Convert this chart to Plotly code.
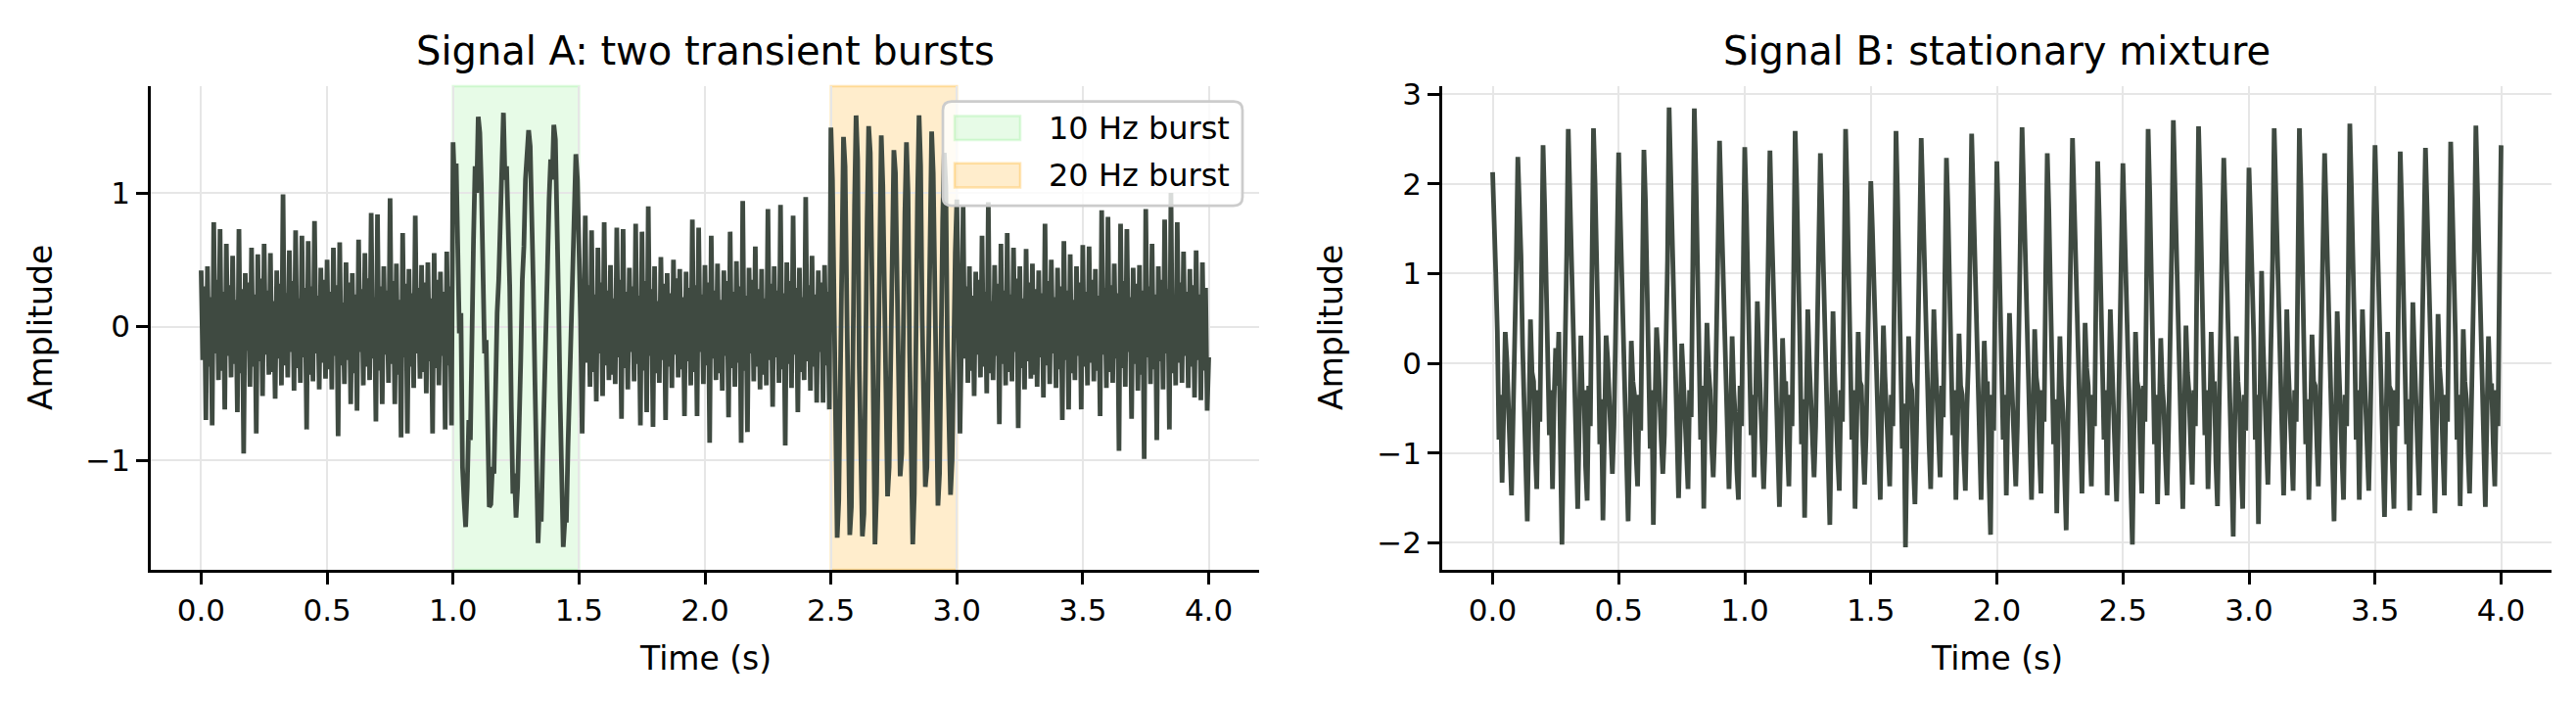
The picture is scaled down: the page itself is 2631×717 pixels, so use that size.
import numpy as np
import plotly.graph_objects as go

# ---------------- data ----------------
sample_step = 0.00625  # seconds between listed samples

# Signal A, 0.0 - 0.99375 s (background noise)
a_quiet_1 = [
    0.42, -0.25, 0.30, -0.70, 0.45, -0.30, 0.22, -0.74,
    0.78, -0.20, 0.35, -0.40, 0.73, -0.33, 0.26, -0.62,
    0.62, -0.22, 0.31, -0.38, 0.53, -0.28, 0.20, -0.64,
    0.73, -0.35, 0.28, -0.95, 0.40, -0.18, 0.33, -0.45,
    0.59, -0.30, 0.24, -0.80, 0.54, -0.26, 0.36, -0.52,
    0.62, -0.21, 0.27, -0.36, 0.55, -0.34, 0.19, -0.54,
    0.42, -0.24, 0.32, -0.44, 0.99, -0.29, 0.25, -0.38,
    0.57, -0.19, 0.34, -0.48, 0.72, -0.31, 0.21, -0.42,
    0.68, -0.23, 0.29, -0.77, 0.64, -0.36, 0.30, -0.41,
    0.79, -0.20, 0.23, -0.47, 0.44, -0.27, 0.35, -0.39,
    0.50, -0.32, 0.26, -0.47, 0.59, -0.22, 0.31, -0.82,
    0.63, -0.29, 0.18, -0.43, 0.48, -0.25, 0.33, -0.58,
    0.40, -0.35, 0.24, -0.63, 0.65, -0.19, 0.28, -0.44,
    0.55, -0.30, 0.36, -0.40, 0.85, -0.24, 0.22, -0.71,
    0.84, -0.33, 0.30, -0.58, 0.45, -0.21, 0.27, -0.42,
    0.96, -0.28, 0.34, -0.58, 0.47, -0.36, 0.20, -0.83,
    0.70, -0.23, 0.32, -0.80, 0.43, -0.30, 0.25, -0.46,
    0.83, -0.20, 0.29, -0.39, 0.46, -0.34, 0.33, -0.50,
    0.48, -0.26, 0.21, -0.80, 0.55, -0.31, 0.35, -0.44,
    0.41, -0.22, 0.26, -0.77, 0.56, -0.29, 0.30, -0.74,
]
# Signal A, 1.0 - 1.5 s (10 Hz burst)
a_burst_10hz = [
    1.38, 1.05, 1.22, 0.55, -0.05, 0.10, -1.05, -1.30, -1.50, -1.20,
    -0.70, -0.85, 0.25, 0.65, 1.20, 1.00, 1.57, 1.45, 1.05, 0.50,
    -0.20, -0.10, -0.95, -1.35, -1.33, -1.05, -1.10, -0.45, 0.10, 0.35,
    0.85, 1.25, 1.60, 1.10, 1.20, 0.75, 0.30, -0.60, -1.25, -1.10,
    -1.43, -1.20, -0.80, -0.25, 0.35, 0.60, 1.10, 1.30, 1.47, 1.35,
    0.95, 0.30, -0.40, -1.00, -1.62, -1.30, -1.46, -0.95, -0.35, 0.05,
    0.45, 0.95, 1.25, 1.10, 1.51, 1.40, 0.90, 0.20, -0.55, -1.10,
    -1.65, -1.45, -1.45, -0.90, -0.40, 0.00, 0.60, 1.05, 1.29, 1.10,
    0.70,
]
# Signal A, 1.50625 - 2.49375 s (background noise)
a_quiet_2 = [
    0.05, -0.80, -0.15,
    0.83, -0.27, 0.31, -0.45, 0.72, -0.34, 0.24, -0.56,
    0.59, -0.20, 0.33, -0.52, 0.78, -0.29, 0.27, -0.40,
    0.46, -0.36, 0.21, -0.43, 0.74, -0.23, 0.35, -0.69,
    0.73, -0.31, 0.26, -0.47, 0.44, -0.19, 0.30, -0.41,
    0.77, -0.28, 0.23, -0.74, 0.71, -0.33, 0.34, -0.64,
    0.90, -0.22, 0.28, -0.75, 0.45, -0.35, 0.19, -0.42,
    0.52, -0.25, 0.32, -0.70, 0.40, -0.30, 0.25, -0.46,
    0.50, -0.21, 0.36, -0.38, 0.43, -0.32, 0.22, -0.67,
    0.41, -0.26, 0.29, -0.44, 0.80, -0.34, 0.31, -0.67,
    0.74, -0.19, 0.24, -0.43, 0.46, -0.29, 0.33, -0.87,
    0.68, -0.24, 0.27, -0.40, 0.47, -0.35, 0.20, -0.48,
    0.42, -0.22, 0.34, -0.68, 0.71, -0.31, 0.26, -0.45,
    0.49, -0.27, 0.30, -0.87, 0.94, -0.33, 0.23, -0.79,
    0.44, -0.20, 0.35, -0.41, 0.60, -0.30, 0.28, -0.47,
    0.43, -0.36, 0.21, -0.44, 0.88, -0.25, 0.32, -0.60,
    0.45, -0.23, 0.27, -0.42, 0.91, -0.32, 0.25, -0.89,
    0.48, -0.28, 0.34, -0.46, 0.83, -0.21, 0.29, -0.64,
    0.44, -0.34, 0.22, -0.40, 0.97, -0.26, 0.31, -0.48,
    0.53, -0.30, 0.24, -0.57, 0.42, -0.19, 0.33, -0.57,
    0.46, -0.29, 0.26, -0.62,
]
# Signal A, 2.5 - 3.0 s (20 Hz burst)
a_burst_20hz = [
    1.49, 1.10, 0.10, -0.85, -1.58, -1.30, -0.20, 0.75, 1.42, 1.20,
    0.35, -0.70, -1.56, -1.35, 0.05, 0.90, 1.58, 1.25, -0.30, -1.05,
    -1.57, -1.40, 0.20, 0.80, 1.50, 1.30, 0.45, -0.60, -1.63, -1.25,
    -0.10, 0.70, 1.43, 1.05, 0.15, -0.90, -1.27, -1.05, -0.35, 0.55,
    1.32, 1.15, 0.25, -0.55, -1.12, -0.95, 0.10, 0.85, 1.38, 1.00,
    -0.20, -1.10, -1.63, -1.25, 0.40, 0.95, 1.58, 1.20, 0.05, -0.80,
    -1.20, -1.05, -0.25, 0.60, 1.46, 1.15, 0.30, -0.75, -1.34, -1.10,
    0.00, 0.80, 1.30, 1.05, -0.15, -0.95, -1.26, -1.00, 0.20, 0.55,
    0.95,
]
# Signal A, 3.00625 - 4.0 s (background noise)
a_quiet_3 = [
    0.10, -0.80, -0.05,
    0.90, -0.24, 0.30, -0.42, 0.45, -0.33, 0.23, -0.52,
    0.41, -0.21, 0.35, -0.38, 0.68, -0.30, 0.26, -0.50,
    0.93, -0.35, 0.19, -0.40, 0.46, -0.22, 0.32, -0.73,
    0.62, -0.28, 0.27, -0.44, 0.70, -0.34, 0.24, -0.41,
    0.59, -0.19, 0.36, -0.76, 0.45, -0.31, 0.21, -0.47,
    0.58, -0.26, 0.33, -0.39, 0.47, -0.36, 0.28, -0.45,
    0.42, -0.23, 0.25, -0.53, 0.77, -0.29, 0.34, -0.43,
    0.50, -0.20, 0.22, -0.46, 0.44, -0.32, 0.30, -0.70,
    0.64, -0.25, 0.27, -0.62, 0.54, -0.35, 0.20, -0.40,
    0.45, -0.22, 0.33, -0.62, 0.61, -0.30, 0.26, -0.44,
    0.60, -0.27, 0.35, -0.41, 0.43, -0.33, 0.23, -0.67,
    0.87, -0.21, 0.29, -0.46, 0.82, -0.34, 0.31, -0.42,
    0.47, -0.24, 0.25, -0.93, 0.77, -0.31, 0.34, -0.45,
    0.73, -0.19, 0.22, -0.69, 0.44, -0.28, 0.32, -0.48,
    0.46, -0.36, 0.27, -0.99, 0.88, -0.23, 0.30, -0.43,
    0.62, -0.32, 0.24, -0.85, 0.45, -0.26, 0.35, -0.47,
    0.80, -0.20, 0.28, -0.77, 1.00, -0.35, 0.21, -0.44,
    0.78, -0.27, 0.33, -0.42, 0.56, -0.22, 0.26, -0.46,
    0.43, -0.30, 0.31, -0.53, 0.57, -0.25, 0.24, -0.55,
    0.48, -0.33, 0.29, -0.63,
    -0.23,
]

# Signal B, one row per 0.1 s cycle (16 samples each) + final sample
signal_b = [
    2.13, 1.70, 1.00, 0.35, -0.85, -0.35, -1.33, -0.55, 0.35, 0.05, -0.45, -1.05, -1.47, -0.60, 0.10, 1.10,
    2.30, 1.85, 1.20, 0.20, -0.40, -1.20, -1.76, -0.70, 0.49, -0.10, -0.20, -0.95, -1.40, -0.30, -0.65, 0.90,
    2.43, 1.75, 0.95, 0.45, -0.80, -0.30, -1.40, -0.40, 0.17, -0.25, 0.35, -0.90, -2.02, -0.85, 0.05, 1.20,
    2.61, 1.90, 1.10, 0.10, -0.35, -1.10, -1.62, -0.65, 0.31, -0.40, -0.30, -1.15, -1.53, -0.25, -0.70, 1.00,
    2.62, 2.00, 1.25, 0.30, -0.90, -0.40, -1.75, -0.60, 0.31, 0.05, -0.55, -0.80, -1.23, -0.70, 0.30, 1.35,
    2.35, 1.65, 0.90, 0.00, -0.20, -1.05, -1.76, -0.85, 0.25, -0.20, -0.35, -1.00, -1.37, -0.35, -0.75, 0.85,
    2.38, 1.80, 1.05, 0.25, -0.95, -0.30, -1.80, -0.50, 0.40, 0.10, -0.25, -0.85, -1.23, -0.80, 0.20, 1.15,
    2.85, 2.05, 1.30, 0.40, -0.30, -0.90, -1.50, -0.75, 0.22, -0.15, -0.50, -1.10, -1.40, -0.30, -0.60, 1.05,
    2.84, 2.10, 1.15, 0.15, -0.85, -0.25, -1.62, -0.45, 0.45, -0.05, -0.30, -0.90, -1.27, -0.75, 0.05, 1.30,
    2.48, 1.80, 0.95, 0.30, -0.40, -0.95, -1.40, -0.70, 0.30, -0.30, -0.60, -1.20, -1.52, -0.25, -0.70, 0.95,
    2.41, 1.75, 1.10, 0.05, -0.80, -0.35, -1.27, -0.35, 0.69, 0.10, -0.35, -0.95, -1.40, -0.85, 0.10, 1.15,
    2.37, 1.60, 0.85, 0.35, -0.30, -1.10, -1.60, -0.80, 0.28, -0.25, -0.20, -0.90, -1.37, -0.35, -0.70, 0.90,
    2.59, 1.95, 1.20, 0.20, -0.90, -0.40, -1.72, -0.55, 0.60, 0.00, -0.40, -0.85, -1.27, -0.70, 0.15, 1.30,
    2.34, 1.70, 1.00, 0.40, -0.25, -1.15, -1.80, -0.60, 0.58, -0.10, -0.45, -1.05, -1.42, -0.30, -0.65, 0.85,
    2.61, 1.90, 1.15, 0.10, -0.85, -0.30, -1.62, -0.70, 0.35, -0.20, -0.25, -0.90, -1.35, -0.80, 0.30, 1.30,
    2.03, 1.50, 0.80, 0.25, -0.20, -1.00, -1.52, -0.45, 0.42, -0.15, -0.50, -1.00, -1.37, -0.35, -0.70, 0.90,
    2.59, 1.85, 1.10, 0.20, -0.95, -0.45, -2.05, -0.80, 0.30, -0.20, -0.30, -1.10, -1.57, -0.75, 0.20, 1.25,
    2.51, 1.85, 1.05, 0.35, -0.30, -0.90, -1.40, -0.50, 0.60, 0.05, -0.40, -0.85, -1.27, -0.25, -0.60, 0.95,
    2.29, 1.70, 0.95, 0.10, -0.80, -0.30, -1.52, -0.75, 0.33, -0.25, -0.35, -1.00, -1.42, -0.50, 0.05, 1.20,
    2.56, 1.90, 1.20, 0.30, -0.35, -1.05, -1.52, -0.60, 0.25, -0.30, -0.20, -1.25, -1.91, -0.35, -0.75, 0.95,
    2.25, 1.60, 0.90, 0.05, -0.85, -0.35, -1.47, -0.45, 0.56, 0.00, -0.45, -0.95, -1.37, -0.70, 0.20, 1.10,
    2.63, 1.95, 1.25, 0.35, -0.40, -1.10, -1.52, -0.65, 0.38, -0.15, -0.30, -1.00, -1.45, -0.30, -0.65, 1.00,
    2.34, 1.70, 1.00, 0.20, -0.90, -0.40, -1.67, -0.70, 0.30, -0.25, -0.55, -1.25, -1.86, -0.80, 0.25, 1.20,
    2.51, 1.85, 1.10, 0.40, -0.30, -0.95, -1.45, -0.55, 0.45, -0.05, -0.25, -0.90, -1.37, -0.35, -0.70, 0.90,
    2.25, 1.60, 0.85, 0.15, -0.85, -0.30, -1.47, -0.40, 0.60, 0.05, -0.40, -1.05, -1.54, -0.75, 0.30, 1.15,
    2.23, 1.55, 0.95, 0.30, -0.45, -1.35, -2.02, -0.75, 0.35, -0.20, -0.30, -0.95, -1.45, -0.25, -0.65, 0.90,
    2.61, 1.90, 1.20, 0.10, -0.90, -0.35, -1.57, -0.60, 0.28, -0.25, -0.50, -1.05, -1.47, -0.70, 0.20, 1.30,
    2.71, 2.00, 1.30, 0.35, -0.30, -1.10, -1.62, -0.55, 0.42, -0.10, -0.35, -0.90, -1.35, -0.30, -0.70, 1.05,
    2.64, 1.95, 1.15, 0.25, -0.80, -0.30, -1.40, -0.70, 0.35, -0.30, -0.20, -1.10, -1.59, -0.55, 0.25, 1.30,
    2.29, 1.65, 0.90, 0.05, -0.40, -1.30, -1.93, -0.65, 0.30, -0.20, -0.45, -1.15, -1.62, -0.35, -0.75, 0.85,
    2.18, 1.60, 0.95, 0.30, -0.85, -0.35, -1.79, -0.50, 1.03, 0.20, -0.30, -0.90, -1.35, -0.60, 0.20, 1.15,
    2.62, 1.90, 1.20, 0.20, -0.35, -1.00, -1.47, -0.55, 0.60, -0.05, -0.40, -0.95, -1.42, -0.30, -0.65, 1.00,
    2.62, 1.95, 1.10, 0.35, -0.90, -0.40, -1.52, -0.70, 0.32, -0.20, -0.25, -0.85, -1.37, -0.55, 0.30, 1.30,
    2.34, 1.70, 1.00, 0.10, -0.40, -1.20, -1.76, -0.60, 0.58, 0.00, -0.50, -1.10, -1.52, -0.35, -0.70, 0.90,
    2.67, 1.95, 1.25, 0.30, -0.85, -0.30, -1.52, -0.45, 0.60, 0.05, -0.35, -0.95, -1.42, -0.65, 0.20, 1.30,
    2.43, 1.75, 1.05, 0.20, -0.30, -1.15, -1.71, -0.70, 0.35, -0.25, -0.30, -1.10, -1.62, -0.30, -0.70, 0.95,
    2.36, 1.70, 0.95, 0.35, -0.90, -0.40, -1.64, -0.50, 0.68, 0.10, -0.45, -1.00, -1.47, -0.60, 0.25, 1.20,
    2.40, 1.75, 1.10, 0.15, -0.20, -1.10, -1.67, -0.65, 0.55, -0.05, -0.30, -0.95, -1.47, -0.35, -0.65, 0.90,
    2.47, 1.80, 1.15, 0.30, -0.85, -0.35, -1.59, -0.55, 0.38, -0.20, -0.40, -1.00, -1.45, -0.65, 0.10, 1.25,
    2.65, 1.95, 1.20, 0.25, -0.30, -1.10, -1.60, -0.60, 0.30, -0.25, -0.25, -0.90, -1.37, -0.30, -0.70, 1.00,
    2.43,
]

burst_labels = ["10 Hz burst", "20 Hz burst"]
burst_starts = [1.0, 2.5]
burst_ends = [1.5, 3.0]

panel_titles = ["Signal A: two transient bursts", "Signal B: stationary mixture"]
x_label = "Time (s)"
y_label = "Amplitude"
x_tick_values = [0.0, 0.5, 1.0, 1.5, 2.0, 2.5, 3.0, 3.5, 4.0]
y_ticks_a = [-1, 0, 1]
y_ticks_b = [-2, -1, 0, 1, 2, 3]

signal_a = a_quiet_1 + a_burst_10hz + a_quiet_2 + a_burst_20hz + a_quiet_3
assert len(signal_a) == 641, len(signal_a)
assert len(signal_b) == 641, len(signal_b)

# ---------------- styling ----------------
W, H = 2631, 717
FONT = "DejaVu Sans"
LINE_COLOR = "#3f4a41"
LINE_WIDTH = 4.8
GRID = "#e6e6e6"
burst_fill = ["rgba(144,238,144,0.22)", "rgba(255,165,0,0.20)"]
burst_edge = ["rgba(144,238,144,0.30)", "rgba(255,165,0,0.28)"]


def px(x):
    return x / W


def py(y):
    return (H - y) / H


dom_a = [px(154), px(1286)]
dom_b = [px(1473), px(2606)]
dom_y = [py(580), py(79)]

t_a = np.arange(len(signal_a)) * sample_step
t_b = np.arange(len(signal_b)) * sample_step

fig = go.Figure()
fig.add_trace(go.Scatter(x=t_a, y=signal_a, mode="lines",
                         line=dict(color=LINE_COLOR, width=LINE_WIDTH),
                         xaxis="x", yaxis="y", showlegend=False, hoverinfo="skip"))
fig.add_trace(go.Scatter(x=t_b, y=signal_b, mode="lines",
                         line=dict(color=LINE_COLOR, width=LINE_WIDTH),
                         xaxis="x2", yaxis="y2", showlegend=False, hoverinfo="skip"))

tick_font = dict(family=FONT, size=31, color="black")
common_x = dict(range=[-0.2, 4.2], tickvals=x_tick_values,
                ticktext=[f"{v:.1f}" for v in x_tick_values],
                showgrid=True, gridcolor=GRID, gridwidth=2,
                zeroline=False, showline=True, linecolor="black", linewidth=2.7,
                ticks="outside", ticklen=12, tickwidth=2.7, tickcolor="black",
                tickfont=tick_font, mirror=False)
common_y = dict(showgrid=True, gridcolor=GRID, gridwidth=2,
                zeroline=False, showline=True, linecolor="black", linewidth=2.7,
                ticks="outside", ticklen=12, tickwidth=2.7, tickcolor="black",
                tickfont=tick_font, mirror=False)

fig.update_layout(
    width=W, height=H,
    margin=dict(l=0, r=0, t=0, b=0),
    paper_bgcolor="white", plot_bgcolor="white",
    showlegend=False,
    xaxis=dict(domain=dom_a, anchor="y", **common_x),
    yaxis=dict(domain=dom_y, anchor="x", range=[-1.82, 1.80],
               tickvals=y_ticks_a, **common_y),
    xaxis2=dict(domain=dom_b, anchor="y2", **common_x),
    yaxis2=dict(domain=dom_y, anchor="x2", range=[-2.30, 3.09],
                tickvals=y_ticks_b, **common_y),
)

shapes = []
for s, e, fc, ec in zip(burst_starts, burst_ends, burst_fill, burst_edge):
    shapes.append(dict(type="rect", xref="x", yref="y domain", x0=s, x1=e, y0=0, y1=1,
                       fillcolor=fc, line=dict(color=ec, width=2.5), layer="below"))

# legend box (rounded) drawn manually in paper coordinates
bx0, bx1, by0, by1, r = 963, 1269, 95, 203, 9
rx, ry = r / W, r / H
X0, X1, Y0, Y1 = px(bx0), px(bx1), py(by1), py(by0)
path = (f"M{X0+rx},{Y0} L{X1-rx},{Y0} Q{X1},{Y0} {X1},{Y0+ry} "
        f"L{X1},{Y1-ry} Q{X1},{Y1} {X1-rx},{Y1} L{X0+rx},{Y1} "
        f"Q{X0},{Y1} {X0},{Y1-ry} L{X0},{Y0+ry} Q{X0},{Y0} {X0+rx},{Y0} Z")
shapes.append(dict(type="path", xref="paper", yref="paper", path=path,
                   fillcolor="rgba(255,255,255,0.8)",
                   line=dict(color="#cccccc", width=2.7), layer="above"))
patch_rows = [(110, 135), (159, 184)]
for (r0, r1), fc, ec in zip(patch_rows, burst_fill, burst_edge):
    shapes.append(dict(type="rect", xref="paper", yref="paper",
                       x0=px(975), x1=px(1042), y0=py(r1), y1=py(r0),
                       fillcolor=fc, line=dict(color=ec, width=2.5), layer="above"))
fig.update_layout(shapes=shapes)

ann = []
for lab, (r0, r1) in zip(burst_labels, patch_rows):
    ann.append(dict(x=px(1069), y=py((r0 + r1) / 2), xref="paper", yref="paper",
                    text=lab, showarrow=False, xanchor="left", yanchor="middle",
                    font=dict(family=FONT, size=32, color="black")))
for title, dom in zip(panel_titles, [dom_a, dom_b]):
    ann.append(dict(x=(dom[0] + dom[1]) / 2, y=py(43), xref="paper", yref="paper",
                    text=title, showarrow=False, xanchor="center", yanchor="middle",
                    font=dict(family=FONT, size=40, color="black")))
    ann.append(dict(x=(dom[0] + dom[1]) / 2, y=py(672), xref="paper", yref="paper",
                    text=x_label, showarrow=False, xanchor="center", yanchor="middle",
                    font=dict(family=FONT, size=33, color="black")))
for xc in [42, 1360]:
    ann.append(dict(x=px(xc), y=(dom_y[0] + dom_y[1]) / 2, xref="paper", yref="paper",
                    text=y_label, showarrow=False, textangle=-90,
                    xanchor="center", yanchor="middle",
                    font=dict(family=FONT, size=33, color="black")))
fig.update_layout(annotations=ann)

fig.write_html("out.html")
